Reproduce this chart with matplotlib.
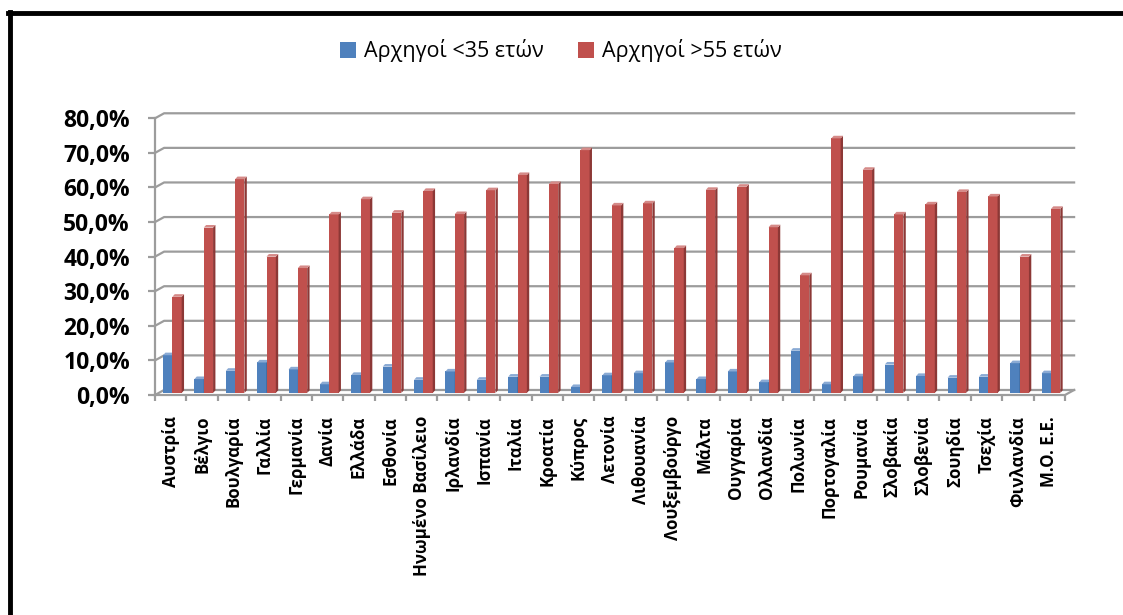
import numpy as np
import matplotlib
matplotlib.use("Agg")
import matplotlib.pyplot as plt
from matplotlib.patches import Polygon, Patch
from matplotlib.lines import Line2D

plt.rcParams['font.family'] = ['Open Sans', 'DejaVu Sans']

# ---- data ----
countries = ['Αυστρία', 'Βέλγιο', 'Βουλγαρία', 'Γαλλία', 'Γερμανία', 'Δανία',
             'Ελλάδα', 'Εσθονία', 'Ηνωμένο Βασίλειο', 'Ιρλανδία', 'Ισπανία',
             'Ιταλία', 'Κροατία', 'Κύπρος', 'Λετονία', 'Λιθουανία',
             'Λουξεμβούργο', 'Μάλτα', 'Ουγγαρία', 'Ολλανδία', 'Πολωνία',
             'Πορτογαλία', 'Ρουμανία', 'Σλοβακία', 'Σλοβενία', 'Σουηδία',
             'Τσεχία', 'Φινλανδία', 'Μ.Ο. Ε.Ε.']
under35 = [10.9, 4.0, 6.4, 8.8, 6.8, 2.5, 5.2, 7.6, 3.8, 6.2, 3.8, 4.7, 4.7,
           1.7, 5.1, 5.7, 8.8, 4.0, 6.2, 3.1, 12.2, 2.5, 4.8, 8.2, 4.9, 4.4,
           4.7, 8.6, 5.7]
over55 = [27.8, 47.8, 61.8, 39.4, 36.1, 51.6, 56.0, 52.1, 58.4, 51.7, 58.6,
          63.0, 60.4, 70.2, 54.2, 54.8, 41.9, 58.7, 59.6, 47.9, 34.0, 73.6,
          64.5, 51.6, 54.5, 58.1, 56.8, 39.4, 53.2]
legend_labels = ['Αρχηγοί <35 ετών', 'Αρχηγοί >55 ετών']
yticks = [0, 10, 20, 30, 40, 50, 60, 70, 80]

# ---- style ----
W, H = 1123, 615
blue, blue_top, blue_side = '#4F81BD', '#8AAAD4', '#385D8A'
red, red_top, red_side = '#C0504D', '#D58A88', '#8C3836'
grid_c = '#9C9C9C'

n = len(countries)
x = np.arange(n)
bw = 0.297
depth_y = 0.6            # bars sit a bit behind the front edge
sx, sy = 0.075, 0.75     # 3d side/top face offsets (data units)
bx, by = 0.29, 1.45      # back wall offset (data units)

fig = plt.figure(figsize=(W / 100, H / 100), dpi=100)
ax = fig.add_axes([155 / W, (H - 395) / H, 910 / W, 276.7 / H])
ax.set_xlim(0, n)
ax.set_ylim(0, 80)
for s in ax.spines.values():
    s.set_visible(False)

# back wall gridlines with the little diagonal joints
for yv in yticks:
    ax.plot([0, bx, n + bx], [yv, yv + by, yv + by], color=grid_c, lw=1.6,
            clip_on=False, zorder=1)
# floor
ax.plot([0, n, n + bx], [0, 0, by], color=grid_c, lw=1.6, clip_on=False, zorder=1)
# front vertical axis
ax.plot([0, 0], [0, 80], color=grid_c, lw=1.6, clip_on=False, zorder=1)


def draw_3d(rects, front, top, side):
    for r in rects:
        x0, y0 = r.get_x(), r.get_y()
        w, h = r.get_width(), r.get_height()
        r.set_facecolor(front)
        ax.add_patch(Polygon([(x0 + w, y0), (x0 + w + sx, y0 + sy),
                              (x0 + w + sx, y0 + h + sy), (x0 + w, y0 + h)],
                             closed=True, facecolor=side, edgecolor='none',
                             zorder=r.get_zorder(), clip_on=False))
        ax.add_patch(Polygon([(x0, y0 + h), (x0 + sx, y0 + h + sy),
                              (x0 + w + sx, y0 + h + sy), (x0 + w, y0 + h)],
                             closed=True, facecolor=top, edgecolor='none',
                             zorder=r.get_zorder(), clip_on=False))


b1 = ax.bar(x + 0.405, under35, bw, bottom=depth_y, color=blue, zorder=3,
            clip_on=False)
draw_3d(b1, blue, blue_top, blue_side)
b2 = ax.bar(x + 0.702, over55, bw, bottom=depth_y, color=red, zorder=4,
            clip_on=False)
draw_3d(b2, red, red_top, red_side)

# ticks and labels
ax.set_yticks(yticks)
ax.set_yticklabels([f'{v:.1f}%'.replace('.', ',') for v in yticks],
                   fontsize=16.5, fontweight='bold')
ax.tick_params(axis='y', length=5, width=1.6, color=grid_c, pad=13)

ax.set_xticks(np.arange(n + 1))
ax.set_xticklabels([])
ax.tick_params(axis='x', which='major', length=4.5, width=1.6, color=grid_c)
ax.set_xticks(x + 0.5, minor=True)
ax.set_xticklabels(countries, minor=True, rotation=90, fontsize=12.2,
                   fontweight='bold', va='top', ha='center')
ax.tick_params(axis='x', which='minor', length=0, pad=15)

# legend
handles = [Patch(facecolor=blue), Patch(facecolor=red)]
fig.legend(handles, legend_labels, loc='center', ncol=2, frameon=False,
           bbox_to_anchor=(561 / W, 1 - 51 / H), fontsize=15.5,
           handlelength=0.75, handleheight=0.75, handletextpad=0.35,
           columnspacing=1.6)

# chart border (left and top visible)
fig.add_artist(Line2D([10 / W, 10 / W], [0, 1 - 12 / H], color='black', lw=3.5,
                      transform=fig.transFigure))
fig.add_artist(Line2D([8.3 / W, 1], [1 - 13 / H, 1 - 13 / H], color='black',
                      lw=3.5, transform=fig.transFigure))

fig.savefig('out.png', dpi=100)
